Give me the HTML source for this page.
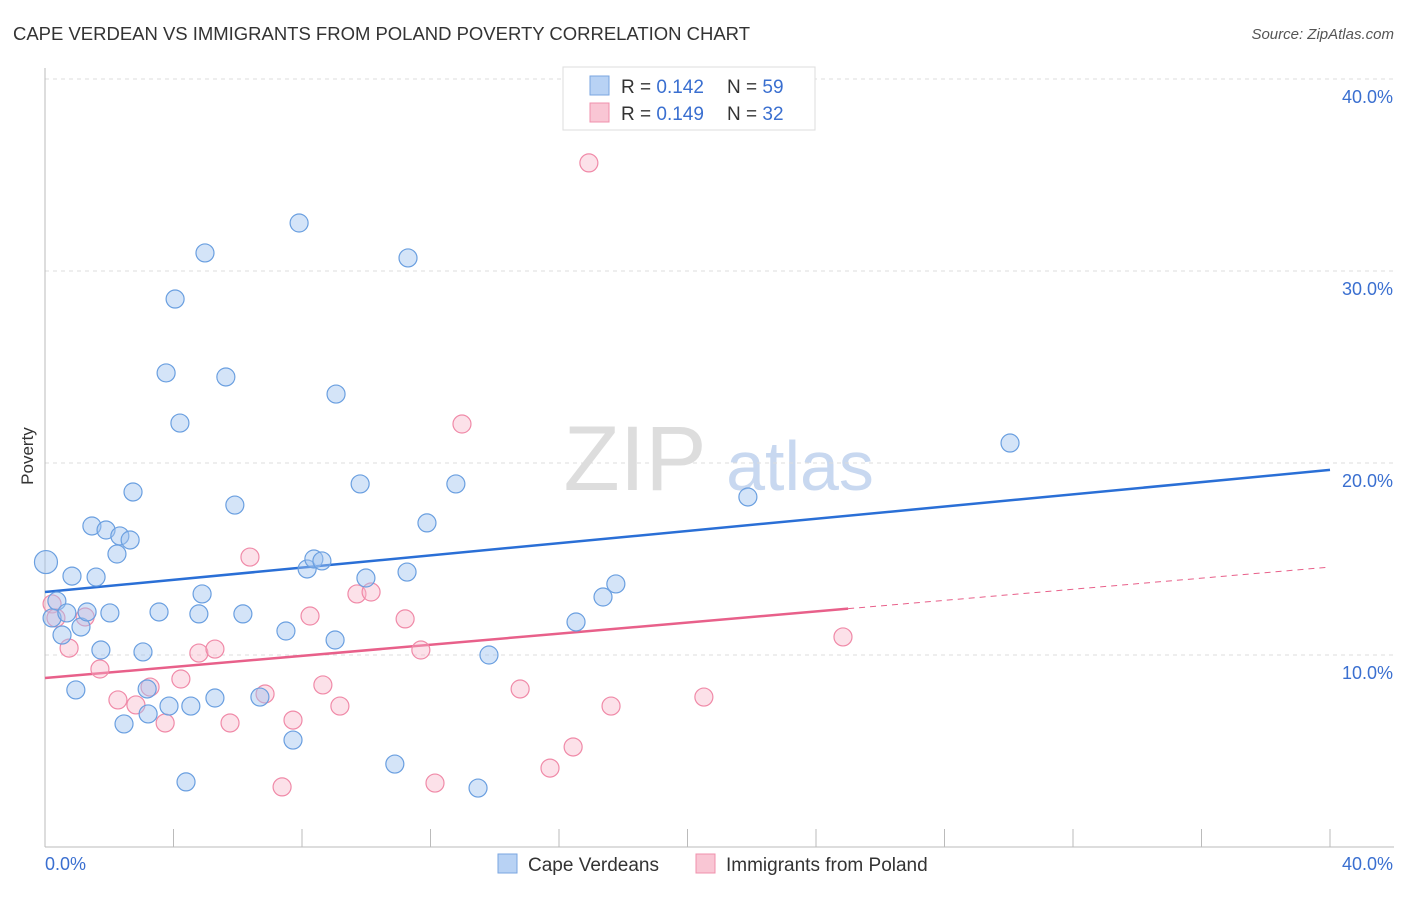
<!DOCTYPE html>
<html><head><meta charset="utf-8"><style>
body{margin:0;background:#fff;font-family:"Liberation Sans",sans-serif;}
svg text{font-family:"Liberation Sans",sans-serif;}
</style></head><body>
<svg id="chart" width="1406" height="892">
<text x="13" y="40" font-size="18.5" fill="#333" textLength="737">CAPE VERDEAN VS IMMIGRANTS FROM POLAND POVERTY CORRELATION CHART</text>
<text x="1394" y="39" font-size="15" fill="#555" text-anchor="end" font-style="italic">Source: ZipAtlas.com</text>
<text x="33" y="456" font-size="17" fill="#333" transform="rotate(-90 33 456)" text-anchor="middle">Poverty</text>
<g><text x="635" y="490" font-size="92" fill="#ddd" text-anchor="middle" font-family="Liberation Serif,serif">ZIP</text><text x="800" y="490" font-size="70" fill="#c8d8f0" text-anchor="middle">atlas</text></g>
<g id="grid"></g><g id="axes"></g><g id="lines"></g><g id="pts"></g>
<g>
<rect x="563" y="67" width="252" height="63" fill="#fff" stroke="#ddd"/>
<rect x="590" y="76" width="19" height="19" fill="#b8d2f4" stroke="#7aa6e0"/>
<text x="621" y="93" font-size="19" fill="#333">R = <tspan fill="#3a6fd0">0.142</tspan></text>
<text x="727" y="93" font-size="19" fill="#333">N = <tspan fill="#3a6fd0">59</tspan></text>
<rect x="590" y="103" width="19" height="19" fill="#f9c6d4" stroke="#f090ac"/>
<text x="621" y="120" font-size="19" fill="#333">R = <tspan fill="#3a6fd0">0.149</tspan></text>
<text x="727" y="120" font-size="19" fill="#333">N = <tspan fill="#3a6fd0">32</tspan></text>
</g>
<g>
<rect x="498" y="854" width="19" height="19" fill="#b8d2f4" stroke="#7aa6e0"/>
<text x="528" y="871" font-size="19" fill="#333">Cape Verdeans</text>
<rect x="696" y="854" width="19" height="19" fill="#f9c6d4" stroke="#f090ac"/>
<text x="726" y="871" font-size="19" fill="#333">Immigrants from Poland</text>
</g>
</svg>
<script>
const blueX=[0.03,0.37,0.22,0.53,0.68,0.84,0.96,1.12,1.31,1.46,1.59,1.74,1.90,2.02,2.24,2.33,2.46,2.65,2.74,3.05,3.18,3.21,3.55,3.77,3.86,4.05,4.20,4.39,4.54,4.79,4.89,4.98,5.29,5.63,5.91,6.16,6.69,7.50,7.72,7.91,8.16,8.37,8.62,9.03,9.06,9.81,9.99,10.89,11.27,11.30,11.89,12.79,13.48,13.82,16.53,17.37,17.77,21.88,30.04];
const blueY=[14.84,12.81,11.93,11.04,12.19,14.11,8.18,11.46,12.24,16.72,14.06,10.26,16.51,12.19,15.26,16.20,6.41,15.99,18.49,10.16,8.23,6.93,12.24,24.69,7.34,28.54,22.08,3.39,7.34,12.14,13.18,30.94,7.76,24.48,17.81,12.14,7.81,11.25,5.57,32.50,14.48,15.00,14.90,10.78,23.59,18.91,14.01,4.32,14.32,30.68,16.88,18.91,3.07,10.00,11.72,13.02,13.70,18.23,21.04];
const pinkX=[0.22,0.34,0.75,1.25,1.71,2.27,2.83,3.27,3.74,4.23,4.79,5.29,5.76,6.38,6.85,7.38,7.72,8.25,8.65,9.18,9.71,10.15,11.21,11.70,12.14,12.98,14.79,15.72,16.44,16.93,17.62,20.51,24.84];
const pinkY=[12.66,11.93,10.36,11.98,9.27,7.66,7.40,8.33,6.46,8.75,10.10,10.31,6.46,15.10,7.97,3.13,6.61,12.03,8.44,7.34,13.18,13.28,11.88,10.26,3.33,22.03,8.23,4.11,5.21,35.63,7.34,7.81,10.94];
const blueTrend=[13.28,19.64];
const pinkTrend=[8.8,14.58];
const yTicks=[10,20,30,40];
const xTickLabels=["0.0%","40.0%"];
const NS="http://www.w3.org/2000/svg";
const X=v=>45+v/40*1285, Y=v=>847-v*19.2;
function mk(t,a,p){const e=document.createElementNS(NS,t);for(const k in a)e.setAttribute(k,a[k]);p.appendChild(e);return e;}
const grid=document.getElementById('grid'),axes=document.getElementById('axes'),lines=document.getElementById('lines'),pts=document.getElementById('pts');
yTicks.forEach(t=>{const g=mk('line',{x1:45,x2:1394,y1:Y(t),y2:Y(t),stroke:'#ddd','stroke-dasharray':'4,4'},grid);


const l=mk('text',{x:1393,y:Y(t)+24,'font-size':18,fill:'#3a6fd0','text-anchor':'end'},axes);l.textContent=t.toFixed(1)+'%';

});
const ax=mk('line',{x1:45,x2:1394,y1:847,y2:847,stroke:'#bbb'},axes);


const ay=mk('line',{x1:45,x2:45,y1:68,y2:847,stroke:'#bbb'},axes);


for(let i=0;i<=10;i++){const tk=mk('line',{x1:X(i*4),x2:X(i*4),y1:829,y2:847,stroke:'#bbb'},axes);

}
const xl0=mk('text',{x:45,y:870,'font-size':18,fill:'#3a6fd0'},axes);xl0.textContent=xTickLabels[0];


const xl1=mk('text',{x:1393,y:870,'font-size':18,fill:'#3a6fd0','text-anchor':'end'},axes);xl1.textContent=xTickLabels[1];


function draw(xs,ys,fill,stroke,name){xs.forEach((x,i)=>{const r=(x<0.1&&name==='blue')?11.5:9;
const c=mk('circle',{cx:X(x),cy:Y(ys[i]),r:r,fill:fill,stroke:stroke,'stroke-width':1.2},pts);

});}
draw(pinkX,pinkY,'rgba(248,180,200,0.4)','#f08aa8','pink');
draw(blueX,blueY,'rgba(160,196,240,0.45)','#6a9fe0','blue');
const bl=mk('line',{x1:X(0),y1:Y(blueTrend[0]),x2:X(40),y2:Y(blueTrend[1]),stroke:'#2a6fd6','stroke-width':2.5},lines);


const pm=(x)=>pinkTrend[0]+(pinkTrend[1]-pinkTrend[0])*x/40;
const pl=mk('line',{x1:X(0),y1:Y(pm(0)),x2:X(25),y2:Y(pm(25)),stroke:'#e8608a','stroke-width':2.5},lines);


const pd=mk('line',{x1:X(25),y1:Y(pm(25)),x2:X(40),y2:Y(pm(40)),stroke:'#e8608a','stroke-width':1,'stroke-dasharray':'6,5'},lines);


</script>
</body></html>
